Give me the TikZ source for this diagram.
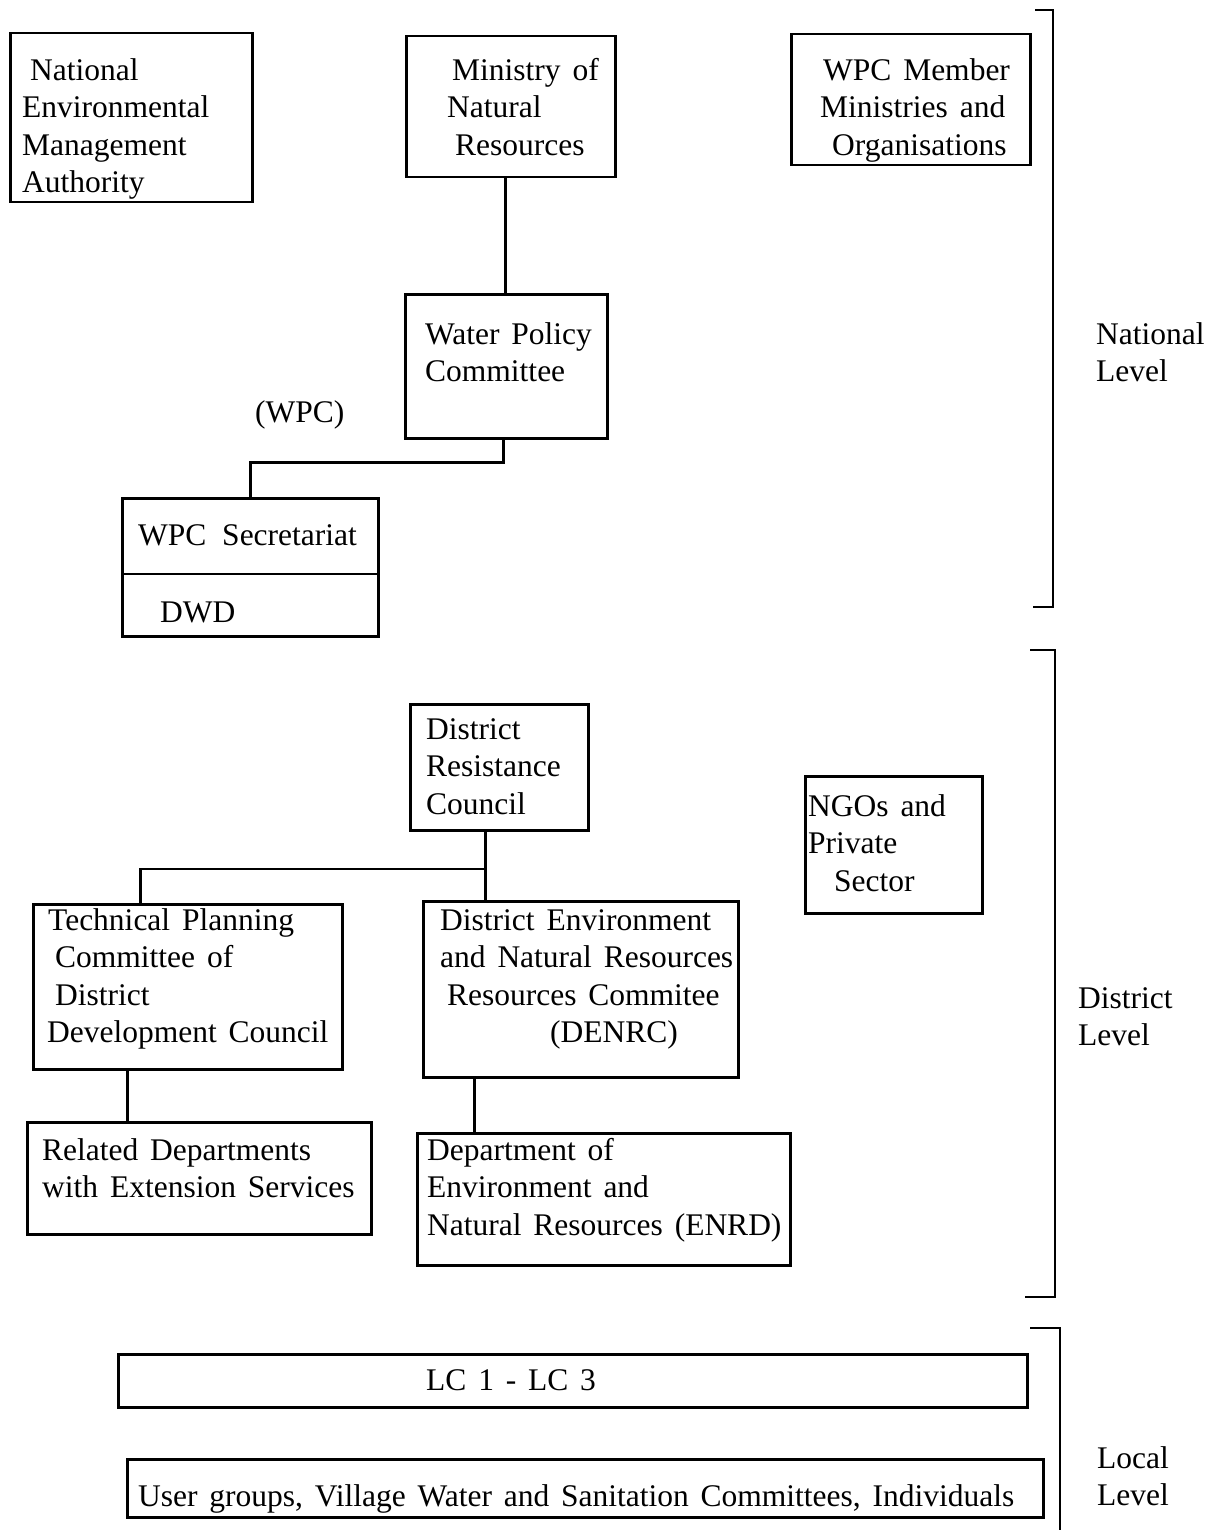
\documentclass[tikz,border=0pt]{standalone}
\usepackage{fontspec}
\setmainfont{Liberation Serif}[WordSpace=1.5]
\newcommand\fs{\fontsize{31.5}{37.5}\selectfont}
\begin{document}
\begin{tikzpicture}[x=1pt,y=-1pt,
  box/.style={draw,line width=2.5pt,inner sep=0,anchor=north west},
  txt/.style={inner sep=0,align=left,anchor=north west,font=\fs},
  conn/.style={line width=2.5pt},
  brk/.style={line width=2.6pt}]
\useasboundingbox (0,0) rectangle (1214,1530);
% boxes
\node[box,minimum width=242pt,minimum height=169pt] (nema) at (9,32) {};
\node[box,minimum width=209pt,minimum height=141pt] (min) at (405,35) {};
\node[box,minimum width=239pt,minimum height=131pt] (mem) at (790,33) {};
\node[box,minimum width=202pt,minimum height=144pt] (wpc) at (404,293) {};
\node[box,minimum width=256pt,minimum height=138pt] (sec) at (121,497) {};
\node[box,minimum width=178pt,minimum height=126pt] (drc) at (409,703) {};
\node[box,minimum width=177pt,minimum height=137pt] (ngo) at (804,775) {};
\node[box,minimum width=309pt,minimum height=165pt] (tpc) at (32,903) {};
\node[box,minimum width=315pt,minimum height=176pt] (denrc) at (422,900) {};
\node[box,minimum width=344pt,minimum height=112pt] (rel) at (26,1121) {};
\node[box,minimum width=373pt,minimum height=132pt] (enrd) at (416,1132) {};
\node[box,minimum width=909pt,minimum height=53pt] (lc) at (117,1353) {};
\node[box,minimum width=916pt,minimum height=58pt] (usr) at (126,1458) {};
% texts
\node[txt] (t-nema) at (22,53.75) {\strut\hspace*{8pt}National\\Environmental\\Management\\Authority};
\node[txt] (t-min) at (447,53.75) {\strut\hspace*{5pt}Ministry of\\Natural\\\hspace*{8pt}Resources};
\node[txt] (t-mem) at (820,53.75) {\strut\hspace*{3pt}WPC Member\\Ministries and\\\hspace*{12pt}Organisations};
\node[txt] (t-wpc) at (425,317.75) {\strut Water Policy\\Committee};
\node[txt] (t-wpcab) at (255,395.75) {\strut (WPC)};
\node[txt] (t-sec) at (138,518.75) {\strut WPC\hspace{4pt} Secretariat};
\node[txt] (t-dwd) at (160,595.75) {\strut DWD};
\node[txt] (t-drc) at (426,712.75) {\strut District\\Resistance\\Council};
\node[txt] (t-ngo) at (808,789.75) {\strut NGOs and\\Private\\\hspace*{26pt}Sector};
\node[txt] (t-tpc) at (47,903.75) {\strut\hspace*{1pt}Technical Planning\\\hspace*{8pt}Committee of\\\hspace*{8pt}District\\Development Council};
\node[txt] (t-denrc) at (440,903.75) {\strut District Environment\\and Natural Resources\\\hspace*{7pt}Resources Commitee\\\hspace*{110pt}(DENRC)};
\node[txt] (t-rel) at (42,1133.75) {\strut Related Departments\\with Extension Services};
\node[txt] (t-enrd) at (427,1133.75) {\strut Department of\\Environment and\\Natural Resources (ENRD)};
\node[txt] (t-lc) at (426,1363.75) {\strut LC 1 - LC 3};
\node[txt] (t-usr) at (138,1479.75) {\strut User groups, Village Water and Sanitation Committees, Individuals};
\node[txt] (t-nat) at (1096,317.75) {\strut National\\Level};
\node[txt] (t-dis) at (1078,981.75) {\strut District\\Level};
\node[txt] (t-loc) at (1097,1441.75) {\strut Local\\Level};
% divider in secretariat box
\draw[conn] (sec.west |- 0,574) -- (sec.east |- 0,574);
% connectors
\draw[conn] ([xshift=-5.5pt]min.south) -- ([xshift=-5.5pt]min.south |- wpc.north);
\draw[conn] ([xshift=-3pt]wpc.south) -- ++(0,23) -| (sec.north);
\coordinate (j) at (484,869);
\draw[conn] ([xshift=-14pt]drc.south) -- ([xshift=-14pt]drc.south |- denrc.north);
\draw[conn] ([xshift=-47.5pt]tpc.north) |- (j);
\draw[conn] ([xshift=-60.5pt]tpc.south) -- ([xshift=-60.5pt]tpc.south |- rel.north);
\draw[conn] ([xshift=-106.5pt]denrc.south) -- ([xshift=-106.5pt]denrc.south |- enrd.north);
% level brackets
\draw[brk] (1035,10) -- (1053,10) -- (1053,607) -- (1033,607);
\draw[brk] (1030,650) -- (1055,650) -- (1055,1297) -- (1025,1297);
\draw[brk] (1030,1328) -- (1060,1328) -- (1060,1530);
\end{tikzpicture}
\end{document}
